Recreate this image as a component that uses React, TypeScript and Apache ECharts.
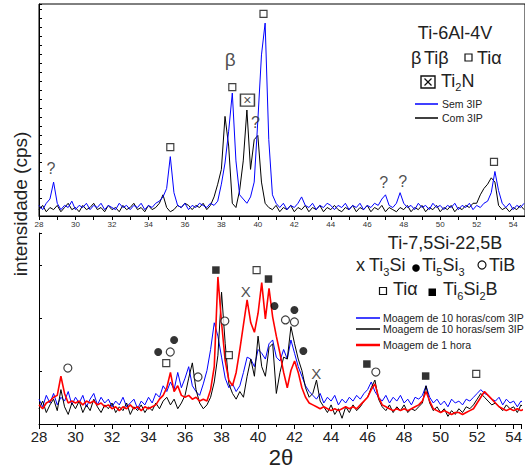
import React, { useEffect, useRef } from "react";
import * as echarts from "echarts";

const FONT = '"Liberation Sans", Arial, Helvetica, sans-serif';

// 2θ sampling grid: first angle and spacing of the tabulated intensities
const START_2THETA = 28;
const STEP_2THETA = 0.2;

// ---- Top panel: Ti-6Al-4V (relative intensity) ----
const TOP_SEM_3IP = [
  5, 3, 6, 8, 16, 6, 3, 5, 4, 7,
  3, 5, 4, 6, 3, 5, 4, 6, 3, 5,
  4, 3, 6, 4, 5, 3, 5, 4, 6, 3,
  5, 4, 6, 7, 9, 13, 28, 11, 5, 4,
  6, 3, 5, 4, 6, 5, 4, 6, 5, 7,
  15, 25, 40, 58, 26, 10, 8, 6, 9, 16,
  45, 76, 91, 36, 10, 6, 4, 6, 3, 5,
  4, 6, 9, 5, 4, 6, 3, 5, 4, 6,
  5, 3, 5, 4, 6, 3, 5, 4, 6, 3,
  5, 4, 6, 5, 8, 10, 5, 4, 6, 11,
  6, 4, 5, 3, 6, 4, 5, 3, 6, 4,
  5, 3, 5, 4, 6, 3, 5, 4, 6, 3,
  5, 4, 6, 7, 11, 21, 12, 6, 4, 6,
  3, 5, 4, 6,
];
const TOP_COM_3IP = [
  3, 5, 2, 4, 3, 5, 2, 4, 6, 3,
  4, 2, 5, 3, 4, 6, 3, 4, 2, 5,
  3, 4, 2, 5, 3, 4, 6, 3, 4, 2,
  5, 3, 4, 6, 10, 4, 2, 3, 5, 4,
  6, 5, 3, 5, 4, 6, 3, 5, 9, 15,
  22, 47, 33, 6, 4, 12, 26, 50, 22, 36,
  38, 16, 6, 4, 3, 5, 2, 4, 3, 5,
  2, 4, 3, 5, 2, 4, 3, 5, 2, 4,
  3, 5, 3, 2, 4, 3, 5, 2, 4, 3,
  5, 2, 4, 3, 5, 2, 4, 3, 2, 4,
  3, 5, 2, 4, 3, 5, 2, 4, 3, 5,
  2, 4, 3, 5, 2, 4, 3, 5, 4, 6,
  6, 10, 13, 15, 18, 16, 5, 3, 4, 2,
  4, 3, 5, 3,
];

// ---- Bottom panel: Ti-7,5Si-22,5B (relative intensity) ----
const BOT_10H_COM_3IP = [
  13, 9, 15, 11, 16, 10, 14, 12, 17, 10,
  14, 11, 15, 9, 13, 16, 10, 14, 11, 13,
  9, 12, 10, 14, 9, 11, 13, 8, 12, 10,
  14, 11, 16, 14, 20, 17, 22, 18, 27, 19,
  24, 30, 20, 17, 15, 21, 28, 39, 53, 46,
  35, 24, 19, 21, 17, 20, 27, 35, 34, 30,
  39, 37, 34, 42, 44, 35, 33, 39, 34, 44,
  37, 30, 25, 20, 17, 15, 13, 16, 11, 14,
  12, 15, 10, 13, 11, 14, 12, 15, 13, 16,
  18, 22, 17, 14, 12, 15, 11, 14, 12, 15,
  11, 13, 10, 14, 13, 15, 20, 14, 11, 13,
  10, 12, 9, 13, 11, 12, 10, 13, 12, 14,
  16, 18, 16, 15, 13, 12, 14, 10, 13, 11,
  12, 9, 12, 11,
];
const BOT_10H_SEM_3IP = [
  8, 12, 6, 10, 13, 7, 18, 9, 5, 11,
  8, 12, 6, 10, 7, 13, 9, 6, 10, 8,
  11, 6, 9, 7, 11, 5, 9, 7, 10, 6,
  9, 7, 11, 8, 12, 14, 10, 13, 8, 11,
  15, 24, 32, 18, 11, 8, 10, 14, 22, 36,
  69, 42, 21, 16, 13, 17, 14, 25, 34, 25,
  46, 30, 25, 40, 42, 16, 27, 35, 34, 51,
  42, 34, 28, 19, 14, 16, 23, 12, 9, 6,
  10, 5, 8, 3, 9, 6, 10, 7, 9, 12,
  14, 19, 23, 13, 9, 7, 10, 6, 9, 7,
  10, 6, 8, 7, 9, 11, 20, 11, 7, 9,
  6, 8, 4, 7, 5, 8, 6, 9, 8, 10,
  13, 16, 14, 12, 10, 11, 9, 7, 10, 8,
  9, 6, 10, 8,
];
const BOT_1H = [
  10, 8, 11, 12, 14, 15, 25, 16, 11, 12,
  11, 12, 10, 12, 11, 12, 10, 11, 9, 10,
  8, 9, 7, 9, 8, 10, 8, 9, 7, 9,
  8, 9, 10, 13, 15, 19, 27, 17, 20, 15,
  14, 15, 13, 14, 12, 13, 12, 18, 30, 77,
  53, 33, 23, 20, 27, 39, 52, 65, 53, 48,
  58, 74, 55, 71, 56, 46, 37, 27, 19, 28,
  33, 27, 19, 14, 11, 10, 9, 8, 9, 8,
  7, 8, 7, 8, 9, 8, 9, 8, 10, 12,
  14, 18, 21, 14, 10, 9, 8, 7, 8, 7,
  8, 7, 8, 9, 10, 12, 17, 12, 8, 7,
  6, 7, 6, 5, 6, 6, 5, 6, 7, 8,
  11, 14, 17, 15, 13, 11, 9, 8, 7, 8,
  7, 8, 7, 8,
];

// Phase markers placed at [2θ, intensity, kind]
const TOP_MARKS: [number, number, string][] = [
  [28.66, 22.6, "q"], [35.2, 32.5, "sq"], [38.49, 73.6, "beta"], [38.6, 60.8, "sq"],
  [39.43, 54.7, "box"], [39.87, 43.9, "q"], [40.31, 95.3, "sq"], [46.9, 15.6, "q"],
  [47.95, 16.5, "q"], [52.95, 25.5, "sq"],
];
const BOT_MARKS: [number, number, string][] = [
  [29.58, 29.3, "ci"], [34.53, 37.7, "fci"], [35.19, 37.7, "ci"], [35.4, 44, "fci"],
  [34.97, 31.9, "sq"], [36.71, 24.6, "ci"], [37.69, 80.6, "fsq"], [38.18, 53.9, "ci"],
  [38.4, 36.1, "sq"], [39.32, 69.6, "x"], [39.92, 80.6, "sq"], [40.57, 75.9, "fsq"],
  [40.9, 61.8, "fci"], [41.99, 59.7, "fci"], [41.5, 54.5, "ci"], [41.99, 53.4, "ci"],
  [42.48, 38.2, "fci"], [43.19, 26.2, "x"], [45.96, 31.4, "fsq"], [46.45, 27.2, "ci"],
  [49.18, 25.1, "fsq"], [51.95, 26.2, "sq"],
];

const TOP_LEGEND = ["Sem 3IP", "Com 3IP"];
const BOT_LEGEND = ["Moagem de 10 horas/com 3IP", "Moagem de 10 horas/sem 3IP", "Moagem de 1 hora"];

function pairs(vals: number[]) {
  return vals.map((v, i) => [+(START_2THETA + i * STEP_2THETA).toFixed(2), v]);
}

function markItem(m: [number, number, string]) {
  const [x, y, k] = m;
  const base: any = { value: [x, y] };
  const lbl = (t: string, size: number) => ({
    show: true, position: "inside", formatter: t, fontSize: size, fontFamily: FONT, color: "#222",
  });
  if (k === "sq") return { ...base, symbol: "rect", symbolSize: 7, itemStyle: { color: "#fff", borderColor: "#111", borderWidth: 1.2 } };
  if (k === "fsq") return { ...base, symbol: "rect", symbolSize: 7.5, itemStyle: { color: "#000" } };
  if (k === "ci") return { ...base, symbol: "circle", symbolSize: 8, itemStyle: { color: "#fff", borderColor: "#111", borderWidth: 1.2 } };
  if (k === "fci") return { ...base, symbol: "circle", symbolSize: 8, itemStyle: { color: "#000" } };
  if (k === "box") return { ...base, symbol: "rect", symbolSize: [14, 12], itemStyle: { color: "#fff", borderColor: "#111", borderWidth: 1.4 }, label: lbl("×", 14) };
  const t = k === "q" ? "?" : k === "x" ? "X" : "β";
  const s = k === "q" ? 16 : k === "x" ? 15 : 19;
  return { ...base, symbol: "circle", symbolSize: 1, itemStyle: { color: "rgba(0,0,0,0)" }, label: lbl(t, s) };
}

let measureCtx: CanvasRenderingContext2D | null = null;
function textW(t: string, size: number) {
  if (!measureCtx) measureCtx = document.createElement("canvas").getContext("2d");
  measureCtx!.font = `${size}px ${FONT}`;
  return measureCtx!.measureText(t).width;
}

// sequence of text pieces [text, size, dy]
function seq(x0: number, y: number, parts: [string, number, number][]) {
  const out: any[] = [];
  let x = x0;
  for (const [t, s, dy] of parts) {
    out.push({
      type: "text", x, y: y + dy, silent: true,
      style: { text: t, fontSize: s, fontFamily: FONT, fill: "#222", align: "left", verticalAlign: "middle" },
    });
    x += textW(t, s);
  }
  return out;
}

function txt(x: number, y: number, t: string, size: number, align = "left", extra: any = {}) {
  return {
    type: "text", x, y, silent: true, ...extra,
    style: { text: t, fontSize: size, fontFamily: FONT, fill: "#222", align, verticalAlign: "middle" },
  };
}
function hline(x1: number, x2: number, y: number, color: string, w = 1.5) {
  return { type: "line", silent: true, shape: { x1, y1: y, x2, y2: y }, style: { stroke: color, lineWidth: w } };
}

export default function App() {
  const ref = useRef<HTMLDivElement>(null);
  useEffect(() => {
    if (!ref.current) return;
    const chart = echarts.init(ref.current, null, { renderer: "svg" });
    const evenLabel = (v: number) =>
      Math.abs(v - Math.round(v)) < 1e-6 && Math.round(v) % 2 === 0 ? String(Math.round(v)) : "";

    const graphic: any[] = [
      // y label and x title
      txt(20, 204, "intensidade (cps)", 19, "center", { rotation: Math.PI / 2 }),
      txt(281, 457, "2θ", 22, "center"),
      // top legend block
      txt(455, 33, "Ti-6Al-4V", 18, "center"),
      ...seq(411, 58, [["β", 18, 0]]),
      ...seq(424, 58, [["Tiβ", 18, 0]]),
      { type: "rect", silent: true, shape: { x: 465, y: 54, width: 7, height: 7 }, style: { fill: "#fff", stroke: "#111", lineWidth: 1.2 } },
      ...seq(477, 58, [["Tiα", 18, 0]]),
      { type: "rect", silent: true, shape: { x: 421, y: 76, width: 14, height: 12 }, style: { fill: "#fff", stroke: "#111", lineWidth: 1.4 } },
      { type: "line", silent: true, shape: { x1: 424.5, y1: 78.5, x2: 431.5, y2: 85.5 }, style: { stroke: "#111", lineWidth: 1.2 } },
      { type: "line", silent: true, shape: { x1: 431.5, y1: 78.5, x2: 424.5, y2: 85.5 }, style: { stroke: "#111", lineWidth: 1.2 } },
      ...seq(441, 81, [["Ti", 18, 0], ["2", 11, 6], ["N", 18, 0]]),
      hline(415, 438, 104, "#0000ff"),
      txt(442, 104, TOP_LEGEND[0], 10.5),
      hline(415, 438, 118, "#000"),
      txt(442, 118, TOP_LEGEND[1], 10.5),
      // bottom legend block
      txt(445, 243, "Ti-7,5Si-22,5B", 18, "center"),
      ...seq(356, 265, [["x", 18, 0]]),
      ...seq(369, 265, [["Ti", 18, 0], ["3", 11, 7], ["Si", 18, 0]]),
      { type: "circle", silent: true, shape: { cx: 416, cy: 268, r: 3.8 }, style: { fill: "#000" } },
      ...seq(422, 265, [["Ti", 18, 0], ["5", 11, 7], ["Si", 18, 0], ["3", 11, 7]]),
      { type: "circle", silent: true, shape: { cx: 482, cy: 265, r: 4 }, style: { fill: "#fff", stroke: "#111", lineWidth: 1.2 } },
      ...seq(489, 265, [["TiB", 18, 0]]),
      { type: "rect", silent: true, shape: { x: 379.5, y: 287.5, width: 7, height: 7 }, style: { fill: "#fff", stroke: "#111", lineWidth: 1.2 } },
      ...seq(393, 289, [["Tiα", 18, 0]]),
      { type: "rect", silent: true, shape: { x: 428.5, y: 288.5, width: 7.5, height: 7.5 }, style: { fill: "#000" } },
      ...seq(443, 289, [["Ti", 18, 0], ["6", 11, 7], ["Si", 18, 0], ["2", 11, 7], ["B", 18, 0]]),
      hline(356, 380, 318, "#0000ff"),
      txt(383, 318, BOT_LEGEND[0], 10.5),
      hline(356, 380, 329, "#000"),
      txt(383, 329, BOT_LEGEND[1], 10.5),
      hline(356, 380, 345, "#ff0000", 2.5),
      txt(383, 345, BOT_LEGEND[2], 10.5),
    ];

    const option: any = {
      animation: false,
      backgroundColor: "#fff",
      grid: [
        { left: 39, right: 0, top: 4, height: 212, show: true, borderColor: "#000", borderWidth: 1, backgroundColor: "transparent" },
        { left: 39, right: 0, top: 233, height: 191 },
      ],
      xAxis: [
        {
          gridIndex: 0, type: "value", min: 28, max: 54.65, interval: 2,
          axisLine: { lineStyle: { color: "#000", width: 1 } },
          axisTick: { show: true, inside: false, length: 4, lineStyle: { color: "#000" } },
          minorTick: { show: true, splitNumber: 2, length: 4, lineStyle: { color: "#000" } },
          axisLabel: { fontSize: 8, color: "#333", fontFamily: FONT, margin: 4, formatter: evenLabel, showMaxLabel: false },
          splitLine: { show: false }, minorSplitLine: { show: false },
        },
        {
          gridIndex: 1, type: "value", min: 28, max: 54.4, interval: 2,
          axisLine: { lineStyle: { color: "#000", width: 1 } },
          axisTick: { show: true, inside: false, length: 5, lineStyle: { color: "#000" } },
          minorTick: { show: true, splitNumber: 2, length: 3, lineStyle: { color: "#000" } },
          axisLabel: { fontSize: 15, color: "#222", fontFamily: FONT, margin: 5, formatter: evenLabel, showMaxLabel: false },
          splitLine: { show: false }, minorSplitLine: { show: false },
        },
      ],
      yAxis: [
        {
          gridIndex: 0, type: "value", min: 0, max: 100, interval: 4.25,
          axisLine: { show: true, lineStyle: { color: "#000" } },
          axisTick: { show: true, inside: true, length: 3, lineStyle: { color: "#000" } },
          axisLabel: { show: false }, splitLine: { show: false },
        },
        {
          gridIndex: 1, type: "value", min: 0, max: 100, interval: 27.75,
          axisLine: { show: true, lineStyle: { color: "#000" } },
          axisTick: { show: true, inside: true, length: 3, lineStyle: { color: "#000" } },
          axisLabel: { show: false }, splitLine: { show: false },
        },
      ],
      series: [
        { type: "line", name: TOP_LEGEND[1], xAxisIndex: 0, yAxisIndex: 0, data: pairs(TOP_COM_3IP), symbol: "none", silent: true, lineStyle: { color: "#000", width: 1 }, z: 2 },
        { type: "line", name: TOP_LEGEND[0], xAxisIndex: 0, yAxisIndex: 0, data: pairs(TOP_SEM_3IP), symbol: "none", silent: true, lineStyle: { color: "#0000ff", width: 1 }, z: 3 },
        { type: "line", name: BOT_LEGEND[0], xAxisIndex: 1, yAxisIndex: 1, data: pairs(BOT_10H_COM_3IP), symbol: "none", silent: true, lineStyle: { color: "#0000ff", width: 1 }, z: 2 },
        { type: "line", name: BOT_LEGEND[1], xAxisIndex: 1, yAxisIndex: 1, data: pairs(BOT_10H_SEM_3IP), symbol: "none", silent: true, lineStyle: { color: "#000", width: 1 }, z: 3 },
        { type: "line", name: BOT_LEGEND[2], xAxisIndex: 1, yAxisIndex: 1, data: pairs(BOT_1H), symbol: "none", silent: true, lineStyle: { color: "#ff0000", width: 1.6 }, z: 4 },
        { type: "scatter", xAxisIndex: 0, yAxisIndex: 0, data: TOP_MARKS.map(markItem), silent: true, z: 10 },
        { type: "scatter", xAxisIndex: 1, yAxisIndex: 1, data: BOT_MARKS.map(markItem), silent: true, z: 10 },
      ],
      graphic,
    };
    chart.setOption(option);
    return () => chart.dispose();
  }, []);
  return <div ref={ref} style={{ position: "fixed", left: 0, top: 0, width: 525, height: 470 }} />;
}
